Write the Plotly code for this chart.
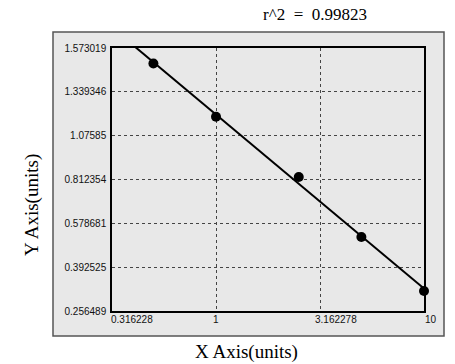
import numpy as np
import plotly.graph_objects as go

# ---- data ----
x_values = [0.5, 1, 2.5, 5, 10]
y_values = [1.4905, 1.1900, 0.8274, 0.5206, 0.3185]
y_tick_values = [0.256489, 0.392525, 0.578681, 0.812354, 1.07585, 1.339346, 1.573019]
y_tick_labels = ["0.256489", "0.392525", "0.578681", "0.812354", "1.07585", "1.339346", "1.573019"]
x_tick_values = [0.316228, 1, 3.162278, 10]
x_tick_labels = ["0.316228", "1", "3.162278", "10"]
r2_text = "r^2 &nbsp;= &nbsp;0.99823"

# the chart's y axis spaces its ticks evenly; map values onto that scale
y_pos_ticks = list(range(len(y_tick_values)))
y_pos = np.interp(y_values, y_tick_values, y_pos_ticks)

# fitted line in (log x, axis) space
lx = np.log10(x_values)
slope, intercept = np.polyfit(lx, y_pos, 1)
line_x = np.array([x_tick_values[0], x_tick_values[-1]])
line_y = slope * np.log10(line_x) + intercept

W, H = 455, 364
L, R, T, B = 112, 424, 48, 311
pw, ph = R - L, B - T

def px(xp):
    return (xp - L) / pw

def py(yp):
    return (B - yp) / ph

fig = go.Figure()
fig.add_trace(go.Scatter(x=line_x, y=line_y, mode="lines",
                         line=dict(color="black", width=2), hoverinfo="skip"))
fig.add_trace(go.Scatter(x=x_values, y=y_pos, mode="markers",
                         marker=dict(color="black", size=10), cliponaxis=False))

# outer panel
fig.add_shape(type="rect", xref="paper", yref="paper",
              x0=px(53), x1=px(444), y0=py(336), y1=py(32),
              fillcolor="#e8e8e8", line=dict(color="#555555", width=1.5), layer="below")

# x tick labels placed as in the reference
x_shift = [-3, 0, -7, -1]
x_anchor = ["left", "center", "left", "left"]
for v, t, s, a in zip(x_tick_values, x_tick_labels, x_shift, x_anchor):
    fig.add_annotation(x=np.log10(v), y=0, xref="x", yref="paper", text=t,
                       showarrow=False, xanchor=a, yanchor="top", xshift=s, yshift=-1,
                       font=dict(family="Liberation Sans", size=10, color="#111"))

fig.add_annotation(x=px(314.5), y=py(14), xref="paper", yref="paper", text=r2_text,
                   showarrow=False, xanchor="center", yanchor="middle",
                   font=dict(family="Liberation Serif", size=17, color="black"))
fig.add_annotation(x=px(246), y=py(352), xref="paper", yref="paper", text="X Axis(units)",
                   showarrow=False, xanchor="center", yanchor="middle",
                   font=dict(family="Liberation Serif", size=19, color="black"))
fig.add_annotation(x=px(32), y=py(205), xref="paper", yref="paper", text="Y Axis(units)",
                   showarrow=False, xanchor="center", yanchor="middle", textangle=-90,
                   font=dict(family="Liberation Serif", size=19, color="black"))

fig.update_layout(
    width=W, height=H, showlegend=False,
    margin=dict(l=L, r=W - R, t=T, b=H - B),
    paper_bgcolor="white", plot_bgcolor="#ececec",
    xaxis=dict(type="log", range=[np.log10(x_tick_values[0]), np.log10(x_tick_values[-1])],
               tickvals=x_tick_values, showticklabels=False, ticks="",
               showgrid=True, gridcolor="#444", griddash="dot", gridwidth=1,
               showline=True, linecolor="black", linewidth=1.5, mirror=True, zeroline=False),
    yaxis=dict(range=[0, len(y_tick_values) - 1], tickvals=y_pos_ticks, ticktext=y_tick_labels,
               ticks="", ticklabelstandoff=2,
               tickfont=dict(family="Liberation Sans", size=10, color="#111"),
               showgrid=True, gridcolor="#444", griddash="dot", gridwidth=1,
               showline=True, linecolor="black", linewidth=1.5, mirror=True, zeroline=False),
)
fig.write_html("out.html")
